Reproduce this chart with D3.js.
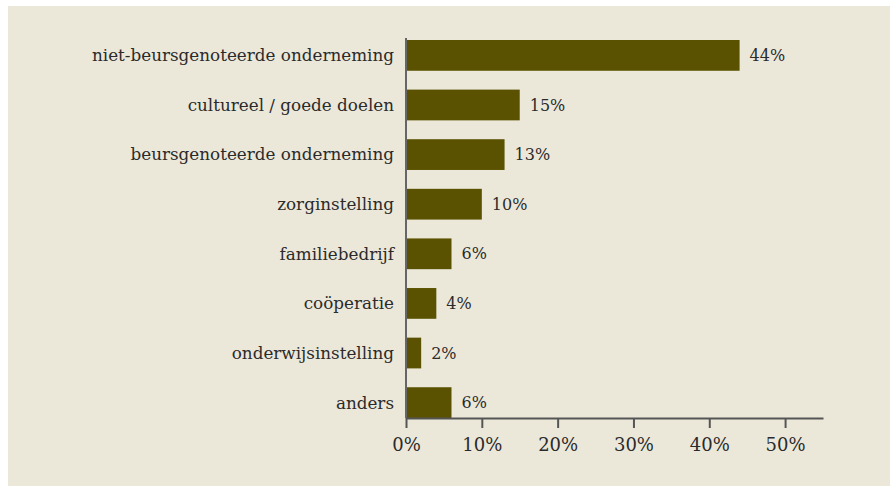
<!DOCTYPE html>
<meta charset="utf-8">
<style>
  body { margin: 0; background: #fff; }
  text { font-family: "DejaVu Serif", serif; fill: #2b2b2b; }
</style>
<svg width="890" height="486"></svg>
<script src="https://d3js.org/d3.v7.min.js"></script>
<script>
// data
var categories = [
  "niet-beursgenoteerde onderneming",
  "cultureel / goede doelen",
  "beursgenoteerde onderneming",
  "zorginstelling",
  "familiebedrijf",
  "coöperatie",
  "onderwijsinstelling",
  "anders"
]
var values = [44, 15, 13, 10, 6, 4, 2, 6]
var tickValues = [0, 10, 20, 30, 40, 50]

var data = categories.map(function (c, i) { return { name: c, value: values[i] } })

var svg = d3.select('svg')

// beige panel
svg.append('rect')
  .attr('x', 8).attr('y', 6)
  .attr('width', 890).attr('height', 486)
  .attr('fill', '#ebe8da')

var x = d3.scaleLinear().domain([0, 55]).range([406, 823])
var y = d3.scaleBand().domain(categories).range([40, 418]).paddingInner(0.38).paddingOuter(0)

var barColor = '#5a5200'

svg.append('g')
  .selectAll('rect')
  .data(data)
  .enter().append('rect')
    .attr('x', x(0))
    .attr('y', function (d) { return y(d.name) })
    .attr('width', function (d) { return x(d.value) - x(0) })
    .attr('height', y.bandwidth())
    .attr('fill', barColor)

// value labels
svg.append('g')
  .selectAll('text')
  .data(data)
  .enter().append('text')
    .attr('x', function (d) { return x(d.value) + 10 })
    .attr('y', function (d) { return y(d.name) + y.bandwidth() / 2 })
    .attr('dy', '0.35em')
    .attr('font-size', 16)
    .text(function (d) { return d.value + '%' })

// category labels
svg.append('g')
  .selectAll('text')
  .data(data)
  .enter().append('text')
    .attr('x', 394)
    .attr('y', function (d) { return y(d.name) + y.bandwidth() / 2 })
    .attr('dy', '0.35em')
    .attr('text-anchor', 'end')
    .attr('font-size', 16.8)
    .text(function (d) { return d.name })

// y axis line
svg.append('line')
  .attr('x1', x(0)).attr('x2', x(0))
  .attr('y1', 38).attr('y2', 418)
  .attr('stroke', '#666').attr('stroke-width', 2)

// x axis
var xAxis = d3.axisBottom(x)
  .tickValues(tickValues)
  .tickSize(10)
  .tickSizeOuter(0)
  .tickPadding(10)
  .tickFormat(function (d) { return d + '%' })

var gx = svg.append('g')
  .attr('transform', 'translate(0,418)')
  .call(xAxis)
gx.select('.domain').attr('stroke', '#555').attr('stroke-width', 2)
gx.selectAll('.tick line').attr('stroke', '#555').attr('stroke-width', 2)
gx.selectAll('.tick text')
  .attr('font-family', '"DejaVu Serif", serif')
  .attr('font-size', 18)
  .attr('fill', '#2b2b2b')
</script>
